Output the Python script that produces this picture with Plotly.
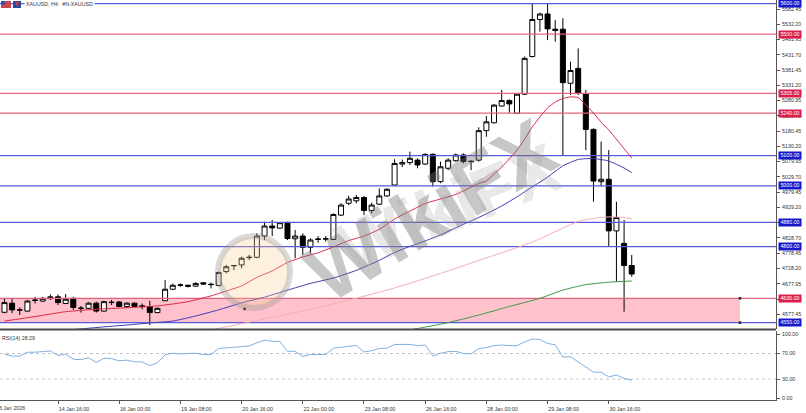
import plotly.graph_objects as go

# ---------------- data ----------------
bar_index = list(range(1, 84))
open_ = [4584, 4614, 4591, 4588, 4623, 4621, 4629, 4635, 4613, 4630,
         4597, 4597, 4614, 4588, 4616, 4618, 4603, 4614, 4605, 4603,
         4583, 4622, 4660, 4673, 4673, 4670, 4681, 4675, 4672, 4718,
         4737, 4740, 4764, 4765, 4835, 4868, 4861, 4880, 4826, 4835,
         4798, 4824, 4825, 4824, 4904, 4943, 4951, 4962, 4919, 4940,
         4967, 5003, 5072, 5077, 5085, 5072, 5104, 5014, 5058, 5083,
         5102, 5080, 5085, 5182, 5208, 5263, 5281, 5239, 5302, 5426,
         5548, 5566, 5516, 5516, 5338, 5387, 5303, 5186, 5014, 5022,
         4852, 4811, 4738]
high = [4630, 4630, 4600, 4625, 4635, 4635, 4643, 4643, 4644, 4635,
        4605, 4617, 4619, 4622, 4625, 4621, 4617, 4616, 4613, 4622,
        4600, 4690, 4679, 4679, 4675, 4683, 4683, 4682, 4718, 4740,
        4740, 4767, 4773, 4844, 4882, 4888, 4881, 4882, 4855, 4844,
        4828, 4835, 4835, 4910, 4943, 4968, 4970, 4967, 4945, 4992,
        4992, 5088, 5087, 5113, 5091, 5107, 5107, 5080, 5091, 5107,
        5107, 5085, 5193, 5230, 5270, 5316, 5285, 5305, 5426, 5601,
        5570, 5599, 5546, 5552, 5409, 5453, 5316, 5190, 5146, 5118,
        4948, 4888, 4773]
low = [4581, 4581, 4575, 4586, 4613, 4619, 4625, 4608, 4611, 4592,
       4583, 4595, 4583, 4586, 4608, 4600, 4598, 4600, 4594, 4542,
       4581, 4621, 4657, 4668, 4666, 4668, 4675, 4663, 4671, 4712,
       4723, 4729, 4756, 4762, 4822, 4835, 4859, 4822, 4762, 4773,
       4778, 4813, 4817, 4822, 4901, 4937, 4943, 4904, 4910, 4937,
       4965, 5000, 5062, 5069, 5058, 5069, 4998, 5009, 5052, 5080,
       5074, 5052, 5080, 5162, 5206, 5261, 5241, 5239, 5299, 5423,
       5508, 5480, 5475, 5100, 5299, 5299, 5118, 4948, 4998, 4802,
       4685, 4586, 4701]
close = [4616, 4592, 4592, 4621, 4624, 4630, 4635, 4616, 4627, 4600,
         4597.5, 4614, 4588, 4619, 4617, 4603, 4614, 4603, 4604, 4583,
         4597, 4660, 4673, 4674, 4670, 4679, 4677, 4676, 4715, 4734,
         4738, 4762, 4765, 4835, 4868, 4862, 4879, 4827, 4835, 4798,
         4822, 4825, 4826, 4906, 4937, 4957, 4962, 4919, 4937, 4967,
         4989, 5074, 5077, 5091, 5069, 5104, 5014, 5063, 5085, 5102,
         5080, 5081, 5182, 5211, 5266, 5281, 5270, 5302, 5420, 5548,
         5566, 5517, 5512, 5340, 5380, 5305, 5186, 5016, 5022, 4852,
         4896, 4738, 4710]

rsi = [69, 66, 66, 72, 72, 73, 74, 67, 69, 61,
       60.5, 63.5, 56, 62.5, 62, 58.6, 59.6, 57, 57, 51,
       55.6, 68, 70.4, 69.4, 70, 70.4, 68.4, 68.4, 77.8, 79.3,
       79.8, 80.8, 81.8, 86.7, 91, 89, 89, 73.4, 73.4, 65.5,
       68.4, 68.4, 68.4, 78.3, 80, 81.3, 82.7, 72.4, 74.4, 77.8,
       78.3, 84.2, 84.2, 84.2, 82.3, 83.3, 66, 70.4, 72.9, 73.4,
       70, 69.4, 77.8, 79.3, 82.3, 83.3, 82.3, 82.3, 88.2, 92.6,
       92, 85.7, 83.7, 64.5, 65, 57, 48.7, 40.8, 40.8, 33.4,
       36.4, 31, 28.29]

red_ma_idx = [1, 5, 9, 13, 17, 21, 25, 28, 30, 32, 34, 36, 38, 40, 42, 44, 46, 48, 50,
              52, 54, 56, 58, 60, 62, 63, 64, 65, 66, 67, 68, 69, 70, 71, 72, 73, 74,
              75, 76, 77, 78, 79, 80, 81, 82, 83]
red_ma = [4555, 4570, 4586, 4594, 4599, 4605, 4619, 4638, 4654, 4671, 4699, 4720, 4748,
          4766, 4780, 4799, 4820, 4835, 4857, 4891, 4917, 4942, 4957, 4972, 4996, 5008,
          5016, 5039, 5062, 5089, 5118, 5154, 5194, 5227, 5257, 5276, 5288, 5293, 5291,
          5266, 5240, 5210, 5184, 5154, 5123, 5092]
blue_ma_idx = [10, 14, 17, 20, 23, 26, 29, 32, 35, 38, 41, 44, 47, 50, 52, 54, 56, 58, 60,
               62, 64, 66, 68, 70, 72, 74, 76, 78, 80, 82, 83]
blue_ma = [4527, 4536, 4542, 4549, 4555, 4572, 4592, 4615, 4634, 4657, 4679, 4697, 4722,
           4755, 4781, 4801, 4819, 4839, 4862, 4885, 4908, 4934, 4964, 4997, 5029, 5066,
           5087, 5090, 5082, 5059, 5044]
pink_ma_idx = [28, 35, 40, 46, 52, 58, 64, 70, 74, 76, 78, 80, 82, 83]
pink_ma = [4526, 4562, 4588, 4624, 4664, 4712, 4763, 4815, 4861, 4883, 4893, 4898, 4896, 4891]
green_ma_idx = [54, 59, 63, 67, 71, 74, 77, 80, 83]
green_ma = [4526, 4550, 4575, 4603, 4630, 4657, 4675, 4683, 4687]

level_prices = [5600, 5500, 5305, 5240, 5100, 5000, 4880, 4800, 4630, 4550]
level_kinds = ["b", "r", "r", "r", "b", "b", "b", "b", "r", "b"]
zone_low, zone_high = 4550, 4630

price_ticks = [5582.45, 5532.20, 5481.95, 5431.70, 5381.45, 5331.20, 5280.95, 5230.70,
               5180.45, 5130.20, 5079.95, 5029.70, 4979.45, 4929.20, 4878.95, 4828.70,
               4778.45, 4728.20, 4677.95, 4627.70, 4577.45]
rsi_ticks = [0, 30, 70, 100]
x_tick_idx = [8, 16, 24, 32, 40, 48, 56, 64, 72, 80]
x_tick_labels = ["14 Jan 16:00", "16 Jan 00:00", "19 Jan 08:00", "20 Jan 16:00",
                 "22 Jan 00:00", "23 Jan 08:00", "26 Jan 16:00", "28 Jan 00:00",
                 "29 Jan 08:00", "30 Jan 16:00"]
first_label = "13 Jan 2026"
title_text = "XAUUSD, H4:  #N-XAUUSD"
rsi_label = "RSI(14) 28.29"

# ---------------- styling ----------------
W, H = 806, 413
AX = 776 / 806          # right edge of plot area (paper)
FONT = "Liberation Sans"
FS = 5.3
TXT = "#333333"
AXC = "#555555"
BLUE_L = "#5a5ad8"
RED_L = "#e2637e"
BLUE_B = "#1818cc"
RED_B = "#dc1f4a"
XR = [0.418, 101.86]


def py2paper(py):
    return 1 - py / 400.0


fig = go.Figure()

# horizontal levels (drawn first, below candles)
for p, k in zip(level_prices, level_kinds):
    fig.add_trace(go.Scatter(x=XR, y=[p, p], mode="lines",
                             line=dict(color=BLUE_L if k == "b" else RED_L, width=1.2),
                             xaxis="x", yaxis="y", hoverinfo="skip", showlegend=False))

fig.add_trace(go.Candlestick(
    x=bar_index, open=open_, high=high, low=low, close=close,
    increasing=dict(line=dict(color="black", width=1), fillcolor="white"),
    decreasing=dict(line=dict(color="black", width=1), fillcolor="black"),
    whiskerwidth=0, xaxis="x", yaxis="y", hoverinfo="skip", showlegend=False))

for idx, vals, col in [(pink_ma_idx, pink_ma, "#f3b0b4"),
                       (green_ma_idx, green_ma, "#3d9a45"),
                       (blue_ma_idx, blue_ma, "#3c3cb4"),
                       (red_ma_idx, red_ma, "#dc2846")]:
    fig.add_trace(go.Scatter(x=idx, y=vals, mode="lines",
                             line=dict(color=col, width=1, shape="spline", smoothing=0.6),
                             xaxis="x", yaxis="y", hoverinfo="skip", showlegend=False))

# rectangle handles
fig.add_trace(go.Scatter(x=[97.15, 97.15, 32.4], y=[zone_high, zone_low, 4595],
                         mode="markers", marker=dict(symbol="square", size=2.5, color="#222"),
                         xaxis="x", yaxis="y", hoverinfo="skip", showlegend=False))

fig.add_trace(go.Scatter(x=bar_index, y=rsi, mode="lines",
                         line=dict(color="#7fb0de", width=1),
                         xaxis="x2", yaxis="y2", hoverinfo="skip", showlegend=False))

shapes = []
# support zone
shapes.append(dict(type="rect", xref="x", yref="y", x0=XR[0], x1=97.15,
                   y0=zone_low, y1=zone_high, fillcolor="#ffc2cc",
                   line=dict(width=0), layer="below"))
for v in (30, 70):
    shapes.append(dict(type="line", xref="paper", yref="y2", x0=0, x1=AX, y0=v, y1=v,
                       line=dict(color="#c4c4c4", width=1, dash="dot"), layer="below"))
# panel separator
shapes.append(dict(type="line", xref="paper", yref="paper", x0=0, x1=AX,
                   y0=py2paper(329.6), y1=py2paper(329.6),
                   line=dict(color="#4a4a4a", width=2)))
# title icons
shapes.append(dict(type="rect", xref="paper", yref="paper", x0=1 / W, x1=11 / W,
                   y0=py2paper(8), y1=py2paper(1), fillcolor="#c9474d", line=dict(width=0)))
shapes.append(dict(type="rect", xref="paper", yref="paper", x0=1 / W, x1=5 / W,
                   y0=py2paper(4.5), y1=py2paper(1), fillcolor="#3b4ea0", line=dict(width=0)))
shapes.append(dict(type="rect", xref="paper", yref="paper", x0=13 / W, x1=21 / W,
                   y0=py2paper(8), y1=py2paper(1), fillcolor="#2c4a9a", line=dict(width=0)))
shapes.append(dict(type="path", xref="paper", yref="paper",
                   path=f"M {15/W},{py2paper(2)} L {17/W},{py2paper(7)} L {19/W},{py2paper(2)} Z",
                   fillcolor="#d23b3b", line=dict(width=0)))
# watermark logo circle
shapes.append(dict(type="circle", xref="paper", yref="paper",
                   x0=218 / W, x1=290 / W, y0=py2paper(308), y1=py2paper(236),
                   fillcolor="rgba(250,205,150,0.30)", line=dict(color="rgba(150,150,150,0.35)", width=6)))

annotations = []
for p, k in zip(level_prices, level_kinds):
    annotations.append(dict(xref="paper", yref="y", x=AX, y=p, xanchor="left", yanchor="middle",
                            xshift=1.5, text=f"{p:.2f}", showarrow=False,
                            font=dict(family=FONT, size=FS, color="white"),
                            bgcolor=BLUE_B if k == "b" else RED_B, width=22, height=6.5,
                            borderpad=0))
annotations.append(dict(xref="paper", yref="paper", x=0, y=py2paper(4.5), xanchor="left",
                        yanchor="middle", xshift=24, text=title_text, showarrow=False,
                        font=dict(family=FONT, size=FS, color=TXT), bgcolor="white", borderpad=1))
annotations.append(dict(xref="paper", yref="paper", x=0, y=py2paper(337.5), xanchor="left",
                        yanchor="middle", xshift=0, text=rsi_label, showarrow=False,
                        font=dict(family=FONT, size=FS, color=TXT)))
annotations.append(dict(xref="paper", yref="paper", x=0, y=py2paper(407.5), xanchor="left",
                        yanchor="middle", xshift=-6, text=first_label, showarrow=False,
                        font=dict(family=FONT, size=FS, color=TXT)))
# watermark
annotations.append(dict(xref="paper", yref="paper", x=430 / W, y=py2paper(210),
                        text="<b>WikiFX</b>", showarrow=False, textangle=-31,
                        font=dict(family=FONT, size=82, color="rgba(115,115,115,0.40)")))
annotations.append(dict(xref="paper", yref="paper", x=448 / W, y=py2paper(290),
                        text="<b>WikiFX</b>", showarrow=False, textangle=-22,
                        font=dict(family=FONT, size=70, color="rgba(165,165,165,0.25)")))

fig.update_layout(
    width=W, height=H, template="none",
    margin=dict(l=0, r=0, t=0, b=13, pad=0),
    paper_bgcolor="white", plot_bgcolor="white",
    font=dict(family=FONT, size=FS, color=TXT),
    showlegend=False, hovermode=False,
    boxgap=0.35, boxgroupgap=0,
    shapes=shapes, annotations=annotations,
    xaxis=dict(domain=[0, AX], range=XR, anchor="y", showticklabels=False, ticks="",
               showgrid=False, zeroline=False, showline=False,
               rangeslider=dict(visible=False), automargin=False),
    xaxis2=dict(domain=[0, AX], range=XR, anchor="y2", tickmode="array",
                tickvals=x_tick_idx, ticktext=x_tick_labels, ticks="outside", ticklen=3,
                tickcolor=AXC, tickwidth=1, showline=True, linecolor=AXC, linewidth=1,
                showgrid=False, zeroline=False, ticklabelshift=16, ticklabelstandoff=1,
                tickfont=dict(family=FONT, size=FS, color=TXT), automargin=False),
    yaxis=dict(domain=[py2paper(329), 1], range=[4529.0, 5612.1], anchor="x", side="right",
               tickmode="array", tickvals=price_ticks, tickformat=".2f", ticks="outside",
               ticklen=3, tickcolor=AXC, showline=True, linecolor=AXC, linewidth=1,
               showgrid=False, zeroline=False, ticklabelstandoff=1,
               tickfont=dict(family=FONT, size=FS, color=TXT), automargin=False),
    yaxis2=dict(domain=[0, py2paper(331)], range=[-2.7, 105.2], anchor="x2", side="right",
                tickmode="array", tickvals=rsi_ticks, tickformat=".2f", ticks="outside",
                ticklen=3, tickcolor=AXC, showline=True, linecolor=AXC, linewidth=1,
                showgrid=False, zeroline=False, ticklabelstandoff=1,
                tickfont=dict(family=FONT, size=FS, color=TXT), automargin=False),
)

fig.write_html("out.html", config={"displayModeBar": False},
               post_script="document.body.style.margin='0';document.body.style.overflow='hidden';")
